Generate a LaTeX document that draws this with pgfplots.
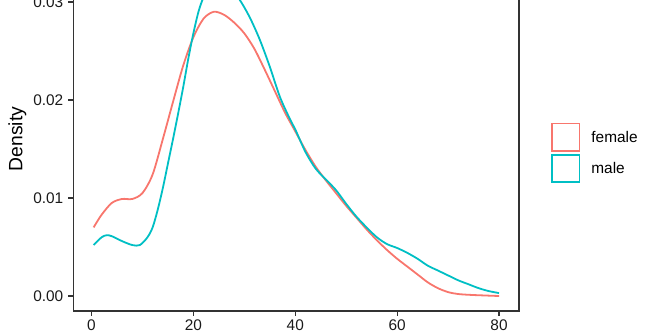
\documentclass[border=0pt]{standalone}
\usepackage{pgfplots}
\pgfplotsset{compat=1.18}
\usepackage{fontspec}
\setmainfont{Liberation Sans}
\definecolor{fem}{HTML}{F8766D}
\definecolor{mal}{HTML}{00BFC4}
\definecolor{axgray}{HTML}{333333}
\definecolor{txtgray}{HTML}{1A1A1A}
\pgfplotstableread{
x y
0.42 0.0070
2 0.0083
4 0.0095
6 0.0099
8 0.0099
10 0.0105
12 0.0124
14 0.0160
16 0.0198
18 0.0235
20 0.0264
22 0.0283
24 0.0290
26 0.0287
28 0.0279
30 0.0268
32 0.0252
34 0.0231
36 0.0209
38 0.0187
40 0.0168
42 0.0149
44 0.0132
46 0.0118
48 0.0105
50 0.0092
52 0.0080
54 0.0068
56 0.0057
58 0.0047
60 0.0038
62 0.0030
64 0.0022
66 0.0014
68 0.0008
70 0.0004
72 0.0002
75 0.0001
80 0.0000
}\female
\pgfplotstableread{
x y
0.42 0.0052
2 0.0060
3 0.0062
4 0.0061
6 0.0056
8 0.0052
9.5 0.0052
11 0.0060
12 0.0070
13 0.0088
14 0.0110
15 0.0135
16 0.0160
17 0.0186
18 0.0213
19 0.0242
20 0.0268
21 0.0290
22 0.0305
23 0.0314
25 0.0319
27 0.0316
29 0.0303
31 0.0285
33 0.0262
35 0.0234
37 0.0203
39 0.0180
40 0.0170
42 0.0147
44 0.0130
46 0.0119
48 0.0108
50 0.0094
52 0.0081
54 0.0070
56 0.0060
58 0.0053
60 0.0049
62 0.0044
64 0.0038
66 0.0031
68 0.0026
70 0.0021
72 0.0016
74 0.0012
76 0.0008
78 0.0005
80 0.0003
}\male
\begin{document}
\begin{tikzpicture}[x=1pt,y=1pt]
\useasboundingbox (0,0) rectangle (660,330);
\clip (0,0) rectangle (660,330);
\begin{axis}[
  at={(73.3pt,19pt)}, anchor=south west,
  scale only axis, width=445.7pt, height=344pt,
  xmin=-3.57, xmax=83.92, ymin=-0.00153, ymax=0.03357,
  axis line style={axgray, line width=1.1pt},
  xtick={0,20,40,60,80}, xticklabels={0,20,40,60,80},
  ytick={0,0.01,0.02,0.03}, yticklabels={0.00,0.01,0.02,0.03},
  scaled y ticks=false,
  tick align=outside, major tick length=4.8pt,
  every tick/.style={axgray, line width=1.1pt},
  xtick pos=bottom, ytick pos=left,
  tick label style={font=\fontsize{15.4}{18}\selectfont, text=txtgray},
  yticklabel style={anchor=east, inner sep=0pt, xshift=-5pt},
  xticklabel style={anchor=north, inner sep=0pt, yshift=-4pt},
  ylabel={Density},
  every axis y label/.style={at={(axis description cs:-0.1252,0.5)}, rotate=90, anchor=center, font=\fontsize{19.3}{22}\selectfont},
  legend style={at={(axis description cs:1.0718,0.5474)}, anchor=north west, draw=none, fill=none, inner sep=0pt, outer sep=0pt, row sep=2.5pt, font=\fontsize{15.4}{18}\selectfont, nodes={inner sep=0pt, anchor=west}, column sep=11pt},
  legend cell align=left,
  legend image code/.code={\draw[#1, line width=1.8pt] (0pt,-13.6pt) rectangle (27.6pt,13.6pt);},
  clip=true,
]
\addplot[fem, line width=1.8pt, smooth, tension=0.5] table[x=x,y=y]{\female};
\addlegendentry{female}
\addplot[mal, line width=1.8pt, smooth, tension=0.5] table[x=x,y=y]{\male};
\addlegendentry{male}
\end{axis}
\end{tikzpicture}
\end{document}
